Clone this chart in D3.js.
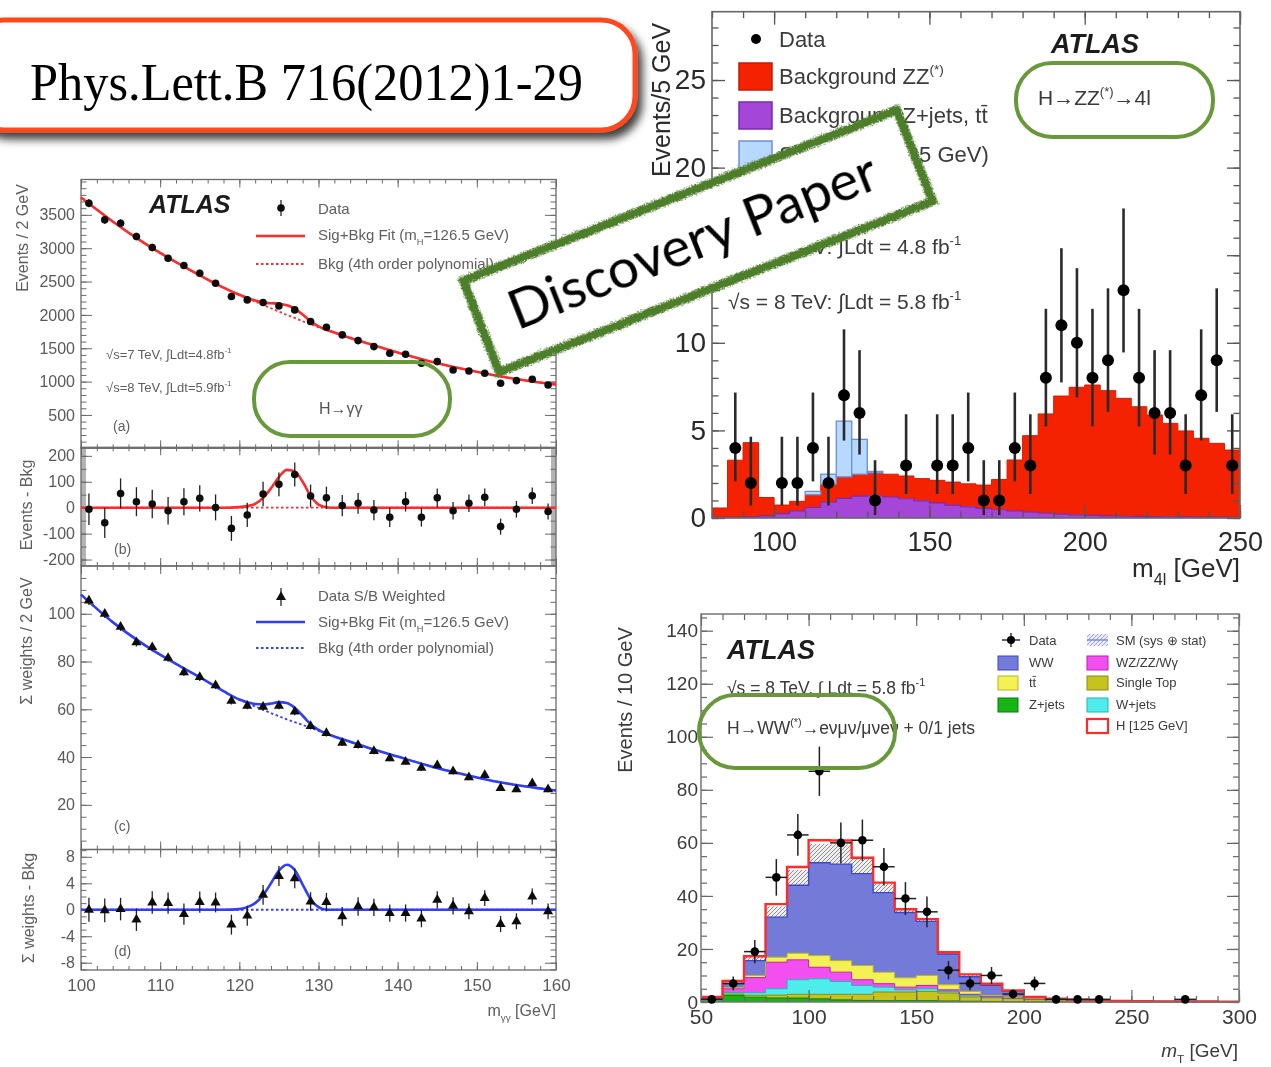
<!DOCTYPE html>
<html>
<head>
<meta charset="utf-8">
<script src="https://cdn.jsdelivr.net/npm/d3@7"></script>
<style>
  html, body { margin: 0; padding: 0; background: #fff; }
  svg { display: block; }
</style>
</head>
<body>
<svg id="page" width="1271" height="1067"></svg>
<script>
// ---------------- H→γγ : diphoton mass spectrum (panels a–d) ----------------
const gamMass   = [101,103,105,107,109,111,113,115,117,119,121,123,125,127,129,131,133,135,137,139,141,143,145,147,149,151,153,155,157,159];
const gamEvents = [3675,3425,3375,3175,3010,2850,2740,2625,2475,2275,2225,2185,2135,2075,1900,1815,1700,1615,1525,1425,1410,1275,1300,1175,1160,1125,975,1015,1035,950];
const gamErr    = [61,59,58,56,55,53,52,51,50,48,47,47,46,46,44,43,41,40,39,38,38,36,36,34,34,34,31,32,32,31];
const gamResid  = [-6,-58,55,23,14,-12,23,36,1,-80,-28,53,90,128,45,38,8,17,-9,-37,23,-37,38,-12,17,40,-73,-6,46,-15];
// S/B weighted version
const wEvents   = [105.5,100,94.5,88,86,81.5,75.5,73.5,70,63.5,61.5,61,61.5,59,53,50,46,45,42.5,39.5,38,35.5,36.5,34,31.5,32.5,27,26.5,29,26.5];
const wErr      = [1.8,1.8,1.7,1.7,1.7,1.6,1.6,1.6,1.5,1.5,1.5,1.5,1.5,1.5,1.4,1.4,1.4,1.4,1.3,1.3,1.3,1.3,1.3,1.3,1.2,1.2,1.2,1.2,1.2,1.2];
const wResid    = [0,-0.1,0.1,-1.5,1.1,1.0,-0.65,1.15,1.1,-2.25,-0.9,2.25,5.1,4.75,1.25,1.15,-1.0,0.5,0.35,-0.5,-0.5,-1.35,1.5,0.6,-0.25,1.75,-2.15,-1.75,2.0,-0.25];
// fit curves sampled on a common mass grid
const fitMass   = [100,104,108,112,116,118,120,121,122,123,124,125,126,127,128,129,130,131,132,134,136,140,144,148,152,156,160];
const gamBkgFit = [3760,3400,3075,2790,2530,2410,2300,2250,2200,2150,2100,2050,2000,1955,1905,1860,1815,1775,1735,1655,1580,1435,1305,1195,1100,1020,955];
const gamSigFit = [0,0,0,0,0,0,2,6,15,38,75,118,146,140,100,45,12,2,0,0,0,0,0,0,0,0,0];
const wBkgFit   = [108,96.5,87,79,71.5,67.6,64,62.6,61.2,59.8,58.4,57.1,55.8,54.6,53.5,52.2,51,49.8,48.6,46.4,44.2,40.2,36.3,33,30,27.8,26];
const wSigFit   = [0,0,0,0,0,0,0.1,0.4,1.0,2.2,4.0,5.9,6.8,6.0,3.8,1.6,0.4,0,0,0,0,0,0,0,0,0,0];
const gamXTicks = [100,110,120,130,140,150,160];

// ---------------- H→ZZ(*)→4l : four-lepton mass ----------------
const zzLow    = [80,85,90,95,100,105,110,115,120,125,130,135,140,145,150,155,160,165,170,175,180,185,190,195,200,205,210,215,220,225,230,235,240,245];
const zzZjets  = [0.03,0.04,0.06,0.12,0.25,0.4,0.6,0.9,1.12,1.25,1.27,1.2,1.1,0.98,0.86,0.74,0.64,0.55,0.47,0.4,0.33,0.27,0.22,0.18,0.15,0.12,0.1,0.09,0.08,0.07,0.06,0.05,0.05,0.04];
const zzZZ     = [0.54,3.26,4.24,1.05,0.49,0.55,0.73,1.03,1.23,1.25,1.31,1.3,1.3,1.27,1.29,1.31,1.31,1.33,1.73,2.91,4.37,5.67,6.74,7.28,7.44,7.15,6.73,6.26,5.8,5.33,4.91,4.5,4.21,3.84];
const zzSignal = [0,0,0,0,0,0,0.19,0.57,3.18,1.99,0.08,0,0,0,0,0,0,0,0,0,0,0,0,0,0,0,0,0,0,0,0,0,0,0];
const zzData   = [0,4,2,0,2,2,4,2,7,6,1,0,3,0,3,3,4,1,1,4,3,8,11,10,8,9,13,8,6,6,3,7,9,3];
const zzErrLo  = [0,1.91,1.29,0,1.29,1.29,1.91,1.29,2.58,2.38,0.83,0,1.63,0,1.63,1.63,1.91,0.83,0.83,1.91,1.63,2.77,3.26,3.11,2.77,2.94,3.55,2.77,2.38,2.38,1.63,2.58,2.94,1.63];
const zzErrHi  = [0,3.16,2.64,0,2.64,2.64,3.16,2.64,3.77,3.58,2.30,0,2.92,0,2.92,2.92,3.16,2.30,2.30,3.16,2.92,3.94,4.40,4.26,3.94,4.11,4.67,3.94,3.58,3.58,2.92,3.77,4.11,2.92];
const zzXTicks = [100,150,200,250];
const zzYTicks = [0,5,10,15,20,25];

// ---------------- H→WW(*)→eνμν : transverse mass ----------------
const wwLow     = [50,60,70,80,90,100,110,120,130,140,150,160,170,180,190,200,210,220,230,240,250,260,270,280,290];
const wwZjets   = [0.3,2.5,1.8,1.5,1.5,1.2,0.8,0.6,0.5,0.5,0.5,0.4,0.3,0.2,0.1,0.05,0.05,0,0,0,0,0,0,0,0];
const wwStop    = [0.3,0.5,0.7,1.1,1.4,1.7,2.1,2.3,3.25,3.25,3.5,3.0,1.6,1.4,1.15,0.85,0.35,0.2,0.1,0.1,0,0,0,0,0];
const wwWjets   = [0.2,0.6,1.0,2.4,5.5,5.85,4.85,3.35,1.85,0.85,1.0,0.6,0.6,0.2,0.15,0.1,0.05,0.05,0.02,0,0,0,0,0,0];
const wwDiboson = [0.2,1.4,5.7,10.0,7.5,4.35,3.5,2.15,1.3,1.0,1.25,0.6,0.4,0.2,0.1,0.1,0.05,0.05,0.03,0,0,0,0,0,0];
const wwTtbar   = [0.1,0.4,0.8,1.9,2.5,4.4,4.35,5.35,4.35,3.5,3.75,1.9,1.1,0.5,0.4,0.2,0.1,0.05,0.05,0,0,0,0,0,0];
const wwWW      = [0.1,1.5,5.6,15.1,25.6,35.0,36.4,34.65,30.0,24.65,20.4,11.6,5.5,3.75,2.2,0.6,0.65,0.55,0.4,0.3,0.3,0.25,0.2,0.2,0.15];
const wwHiggs   = [0.7,1.0,1.65,4.9,6.9,8.5,8.9,6.0,3.75,1.25,0.85,0.65,0.9,0.65,0.3,0,0,0,0,0,0,0,0,0,0];
const wwSmUnc   = [0.3,0.8,1.5,4.0,5.8,7.2,7.5,5.5,3.4,1.2,0.9,0.7,0.8,0.6,0.3,0.2,0.15,0.1,0.1,0.1,0.05,0.05,0.05,0.05,0.05];
const wwData    = [1,7,19,47,63,87,60,61,51,39,34,12,7,10,3,7,1,1,1,0,0,0,1,0,0];
const wwDataErr = [1,2.6,4.4,6.9,7.9,9.3,7.7,7.8,7.1,6.2,5.8,3.5,2.6,3.2,1.7,2.6,1,1,1,0,0,0,1,0,0];
const wwXTicks  = [50,100,150,200,250,300];
const wwYTicks  = [0,20,40,60,80,100,120,140];

// ---------------------------------------------------------------------------
const FF = '"Liberation Sans", Arial, Helvetica, sans-serif';
const svg = d3.select('#page');
const defs = svg.append('defs');

function blurFilter(id, sd) {
  defs.append('filter').attr('id', id).attr('filterUnits', 'userSpaceOnUse')
    .attr('x', 0).attr('y', 0).attr('width', 1271).attr('height', 1067)
    .append('feGaussianBlur').attr('stdDeviation', sd);
}
blurFilter('softL', 0.65);
blurFilter('softZ', 0.45);
blurFilter('softW', 0.6);

const shadow = defs.append('filter').attr('id', 'shadow')
  .attr('x', '-10%').attr('y', '-30%').attr('width', '125%').attr('height', '170%');
shadow.append('feDropShadow').attr('dx', 5).attr('dy', 7).attr('stdDeviation', 4)
  .attr('flood-color', '#000').attr('flood-opacity', 0.75);

const rough = defs.append('filter').attr('id', 'rough')
  .attr('x', '-10%').attr('y', '-25%').attr('width', '120%').attr('height', '150%');
rough.append('feTurbulence').attr('type', 'fractalNoise').attr('baseFrequency', 0.9)
  .attr('numOctaves', 2).attr('seed', 4).attr('result', 'noise');
rough.append('feDisplacementMap').attr('in', 'SourceGraphic').attr('in2', 'noise')
  .attr('scale', 6).attr('xChannelSelector', 'R').attr('yChannelSelector', 'G');

const hatch = defs.append('pattern').attr('id', 'hatch').attr('patternUnits', 'userSpaceOnUse')
  .attr('width', 4).attr('height', 4);
hatch.append('rect').attr('width', 4).attr('height', 4).attr('fill', 'rgba(228,228,228,0.6)');
hatch.append('path').attr('d', 'M-1,1 l2,-2 M0,4 l4,-4 M3,5 l2,-2')
  .attr('stroke', '#858585').attr('stroke-width', 0.9);

const hatchBlue = defs.append('pattern').attr('id', 'hatchBlue').attr('patternUnits', 'userSpaceOnUse')
  .attr('width', 4).attr('height', 4);
hatchBlue.append('rect').attr('width', 4).attr('height', 4).attr('fill', '#e8eaf8');
hatchBlue.append('path').attr('d', 'M-1,1 l2,-2 M0,4 l4,-4 M3,5 l2,-2')
  .attr('stroke', '#8f97e0').attr('stroke-width', 0.8);

// text with sub/superscript pieces: strings are plain runs, {t, sub|sup} are scripts
function rich(g, x, y, parts, fs, attrs = {}) {
  const t = g.append('text').attr('x', x).attr('y', y)
    .attr('font-size', fs).attr('font-family', FF);
  Object.entries(attrs).forEach(([k, v]) => t.attr(k, v));
  let shift = 0;
  parts.forEach(p => {
    if (typeof p === 'string') {
      const s = t.append('tspan').text(p);
      if (shift) { s.attr('dy', -shift); shift = 0; }
    } else {
      const off = p.sub ? fs * 0.32 : -fs * 0.45;
      const s = t.append('tspan').text(p.t).attr('font-size', fs * 0.62).attr('dy', off - shift);
      shift = off;
    }
  });
  return t;
}

// ROOT-style frame: inward ticks on all four sides, labels on left / bottom
function frameAxes(g, xs, ys, o) {
  const [xl, xr] = xs.range();
  const [yb, yt] = ys.range();
  const put = (axis, tr) => {
    const a = g.append('g').attr('transform', tr).call(axis);
    a.select('.domain').remove();
    a.selectAll('line').attr('stroke', o.tick).attr('stroke-width', o.tickW);
    a.selectAll('text').attr('fill', o.label).attr('font-size', o.fs).attr('font-family', FF);
    return a;
  };
  const fmt = d3.format('d');
  put(d3.axisBottom(xs).tickValues(o.xMinor).tickSize(-o.xMin).tickFormat(''), `translate(0,${yb})`);
  put(d3.axisTop(xs).tickValues(o.xMinor).tickSize(-o.xMin).tickFormat(''), `translate(0,${yt})`);
  put(d3.axisBottom(xs).tickValues(o.xMajor).tickSize(-o.xMaj)
        .tickFormat(o.xLabels ? fmt : '').tickPadding(o.xPad || 6), `translate(0,${yb})`)
    .selectAll('text').attr('font-size', o.xfs || o.fs);
  put(d3.axisTop(xs).tickValues(o.xMajor).tickSize(-o.xMaj).tickFormat(''), `translate(0,${yt})`);
  put(d3.axisLeft(ys).tickValues(o.yMinor).tickSize(-o.yMin).tickFormat(''), `translate(${xl},0)`);
  put(d3.axisRight(ys).tickValues(o.yMinor).tickSize(-o.yMin).tickFormat(''), `translate(${xr},0)`);
  put(d3.axisLeft(ys).tickValues(o.yMajor).tickSize(-o.yMaj)
        .tickFormat(o.yLabels === false ? '' : (d => (d < 0 ? '-' : '') + fmt(Math.abs(d))))
        .tickPadding(o.yPad || 6), `translate(${xl},0)`);
  put(d3.axisRight(ys).tickValues(o.yMajor).tickSize(-o.yMaj).tickFormat(''), `translate(${xr},0)`);
  g.append('rect').attr('x', xl).attr('y', yt).attr('width', xr - xl).attr('height', yb - yt)
    .attr('fill', 'none').attr('stroke', o.frame).attr('stroke-width', o.frameW);
}

function yTitle(g, x, y, parts, fs, color) {
  const t = rich(g, 0, 0, parts, fs, { fill: color, 'text-anchor': 'middle' });
  t.attr('transform', `translate(${x},${y}) rotate(-90)`);
  return t;
}

// ======================= H→γγ =======================
const gL = svg.append('g').attr('filter', 'url(#softL)');
const gx = d3.scaleLinear().domain([100, 160]).range([81, 556]);
const yA = d3.scaleLinear().domain([0, 4030]).range([448.3, 179.5]);
const yB = d3.scaleLinear().domain([-225, 233]).range([566, 447.3]);
const yC = d3.scaleLinear().domain([1.3, 120]).range([849.5, 566]);
const yD = d3.scaleLinear().domain([-9.1, 9.1]).range([970, 849.5]);
const RED = '#ff2b2b', BLUE = '#2f3cff', LGRAY = '#5e5e5e';
const xMinorG = d3.range(100, 161, 2);

const leftStyle = {
  xMajor: gamXTicks, xMinor: xMinorG, xMaj: 8, xMin: 4,
  tick: '#6a6a6a', tickW: 1, label: '#5a5a5a', fs: 16, frame: '#6a6a6a', frameW: 1.3, yMaj: 11, yMin: 5.5
};
// panel b gray edges
gL.append('rect').attr('x', 81).attr('y', 447.3).attr('width', 5).attr('height', 118.7).attr('fill', '#b4b4b4');
gL.append('rect').attr('x', 551).attr('y', 447.3).attr('width', 5).attr('height', 118.7).attr('fill', '#b4b4b4');

frameAxes(gL, gx, yA, { ...leftStyle, yMajor: [500,1000,1500,2000,2500,3000,3500], yMinor: d3.range(100, 4001, 100) });
frameAxes(gL, gx, yB, { ...leftStyle, yMajor: [-200,-100,0,100,200], yMinor: d3.range(-200, 201, 50) });
frameAxes(gL, gx, yC, { ...leftStyle, yMajor: [20,40,60,80,100], yMinor: d3.range(5, 120, 5) });
frameAxes(gL, gx, yD, { ...leftStyle, yMajor: [-8,-4,0,4,8], yMinor: d3.range(-9, 10, 1),
  xLabels: true, xPad: 9, xfs: 17 });

const fitPath = (ys, vals) => d3.line().curve(d3.curveMonotoneX)
  .x((d, i) => gx(fitMass[i])).y((d, i) => ys(vals[i]))(vals);

// (a) background-only and signal+background fits
gL.append('path').attr('d', fitPath(yA, gamBkgFit)).attr('fill', 'none')
  .attr('stroke', RED).attr('stroke-width', 1.8).attr('stroke-dasharray', '2.5,2.5');
gL.append('path').attr('d', fitPath(yA, gamBkgFit.map((b, i) => b + gamSigFit[i]))).attr('fill', 'none')
  .attr('stroke', RED).attr('stroke-width', 2.6);
// (b) residual
gL.append('line').attr('x1', gx(100)).attr('x2', gx(160)).attr('y1', yB(0)).attr('y2', yB(0))
  .attr('stroke', RED).attr('stroke-width', 1.8).attr('stroke-dasharray', '2.5,2.5');
gL.append('path').attr('d', fitPath(yB, gamSigFit)).attr('fill', 'none')
  .attr('stroke', RED).attr('stroke-width', 2.6);
// (c) weighted fits
gL.append('path').attr('d', fitPath(yC, wBkgFit)).attr('fill', 'none')
  .attr('stroke', BLUE).attr('stroke-width', 1.8).attr('stroke-dasharray', '2.5,2.5');
gL.append('path').attr('d', fitPath(yC, wBkgFit.map((b, i) => b + wSigFit[i]))).attr('fill', 'none')
  .attr('stroke', BLUE).attr('stroke-width', 2.6);
// (d) weighted residual
gL.append('line').attr('x1', gx(100)).attr('x2', gx(160)).attr('y1', yD(0)).attr('y2', yD(0))
  .attr('stroke', BLUE).attr('stroke-width', 1.8).attr('stroke-dasharray', '2.5,2.5');
gL.append('path').attr('d', fitPath(yD, wSigFit)).attr('fill', 'none')
  .attr('stroke', BLUE).attr('stroke-width', 2.6);

function points(g, xs, ys, xv, vals, errs, shape) {
  g.append('g').selectAll('line').data(vals).join('line')
    .attr('x1', (d, i) => xs(xv[i])).attr('x2', (d, i) => xs(xv[i]))
    .attr('y1', (d, i) => ys(d - errs[i])).attr('y2', (d, i) => ys(d + errs[i]))
    .attr('stroke', '#222').attr('stroke-width', 1.3);
  if (shape === 'tri') {
    const sym = d3.symbol(d3.symbolTriangle, 44);
    g.append('g').selectAll('path').data(vals).join('path')
      .attr('d', sym).attr('transform', (d, i) => `translate(${xs(xv[i])},${ys(d)})`).attr('fill', '#111');
  } else {
    g.append('g').selectAll('circle').data(vals).join('circle')
      .attr('cx', (d, i) => xs(xv[i])).attr('cy', d => ys(d)).attr('r', 3.8).attr('fill', '#111');
  }
}
points(gL, gx, yA, gamMass, gamEvents, gamErr, 'dot');
points(gL, gx, yB, gamMass, gamResid, gamErr, 'dot');
points(gL, gx, yC, gamMass, wEvents, wErr, 'tri');
points(gL, gx, yD, gamMass, wResid, wErr, 'tri');

// labels and legends
gL.append('text').attr('x', 149).attr('y', 213).text('ATLAS')
  .attr('font-family', FF).attr('font-size', 25).attr('font-weight', 'bold').attr('font-style', 'italic').attr('fill', '#1a1a1a');
gL.append('line').attr('x1', 281).attr('x2', 281).attr('y1', 200).attr('y2', 216).attr('stroke', '#222').attr('stroke-width', 1.3);
gL.append('circle').attr('cx', 281).attr('cy', 208).attr('r', 3.8).attr('fill', '#111');
rich(gL, 318, 214, ['Data'], 15, { fill: LGRAY });
gL.append('line').attr('x1', 256).attr('x2', 305).attr('y1', 236).attr('y2', 236).attr('stroke', RED).attr('stroke-width', 2.4);
rich(gL, 318, 240, ['Sig+Bkg Fit  (m', { t: 'H', sub: true }, '=126.5 GeV)'], 15, { fill: LGRAY });
gL.append('line').attr('x1', 256).attr('x2', 305).attr('y1', 264).attr('y2', 264).attr('stroke', RED)
  .attr('stroke-width', 1.8).attr('stroke-dasharray', '2.5,2.5');
rich(gL, 318, 269, ['Bkg (4th order polynomial)'], 15, { fill: LGRAY });
rich(gL, 106, 359, ['√s=7 TeV, ∫Ldt=4.8fb', { t: '-1', sup: true }], 13, { fill: LGRAY });
rich(gL, 106, 392, ['√s=8 TeV, ∫Ldt=5.9fb', { t: '-1', sup: true }], 13, { fill: LGRAY });
rich(gL, 113, 431, ['(a)'], 14, { fill: LGRAY });
rich(gL, 114, 554, ['(b)'], 14, { fill: LGRAY });
rich(gL, 114, 831, ['(c)'], 14, { fill: LGRAY });
rich(gL, 114, 956, ['(d)'], 14, { fill: LGRAY });

gL.append('line').attr('x1', 281).attr('x2', 281).attr('y1', 588).attr('y2', 606).attr('stroke', '#222').attr('stroke-width', 1.3);
gL.append('path').attr('d', d3.symbol(d3.symbolTriangle, 44)).attr('transform', 'translate(281,597)').attr('fill', '#111');
rich(gL, 318, 601, ['Data S/B Weighted'], 15, { fill: LGRAY });
gL.append('line').attr('x1', 256).attr('x2', 305).attr('y1', 622).attr('y2', 622).attr('stroke', BLUE).attr('stroke-width', 2.4);
rich(gL, 318, 627, ['Sig+Bkg Fit  (m', { t: 'H', sub: true }, '=126.5 GeV)'], 15, { fill: LGRAY });
gL.append('line').attr('x1', 256).attr('x2', 305).attr('y1', 648).attr('y2', 648).attr('stroke', BLUE)
  .attr('stroke-width', 1.8).attr('stroke-dasharray', '2.5,2.5');
rich(gL, 318, 653, ['Bkg (4th order polynomial)'], 15, { fill: LGRAY });

yTitle(gL, 28, 238, ['Events / 2 GeV'], 16, LGRAY);
yTitle(gL, 32, 505, ['Events - Bkg'], 16, LGRAY);
yTitle(gL, 32, 641, ['Σ weights / 2 GeV'], 16, LGRAY);
yTitle(gL, 34, 908, ['Σ weights - Bkg'], 16, LGRAY);
rich(gL, 556, 1016, ['m', { t: 'γγ', sub: true }, ' [GeV]'], 16, { fill: LGRAY, 'text-anchor': 'end' });

// ======================= H→ZZ(*)→4l =======================
const gZ = svg.append('g').attr('filter', 'url(#softZ)');
const zx = d3.scaleLinear().domain([80, 250]).range([712, 1240]);
const zy = d3.scaleLinear().domain([0, 28.9]).range([518, 11.7]);
const zzRows = zzLow.map((b, i) => ({ zjets: zzZjets[i], zz: zzZZ[i], signal: zzSignal[i] }));
const zzStack = d3.stack().keys(['zjets', 'zz', 'signal'])(zzRows);

function stepPts(low, width, layer) {
  const pts = low.map((b, i) => ({ x: b, y0: layer[i][0], y1: layer[i][1] }));
  const last = pts[pts.length - 1];
  pts.push({ x: last.x + width, y0: last.y0, y1: last.y1 });
  return pts;
}
function stepArea(xs, ys) {
  return d3.area().curve(d3.curveStepAfter).x(d => xs(d.x)).y0(d => ys(d.y0)).y1(d => ys(d.y1));
}
function stepTop(xs, ys) {
  return d3.line().curve(d3.curveStepAfter).x(d => xs(d.x)).y(d => ys(d.y1));
}

const zArea = stepArea(zx, zy), zTop = stepTop(zx, zy);
gZ.append('path').attr('d', zArea(stepPts(zzLow, 5, zzStack[1]))).attr('fill', '#f42300');
gZ.append('path').attr('d', zTop(stepPts(zzLow, 5, zzStack[1]))).attr('fill', 'none').attr('stroke', '#d81c00').attr('stroke-width', 1);
gZ.append('path').attr('d', zArea(stepPts(zzLow, 5, zzStack[0]))).attr('fill', '#a447d8');
gZ.append('path').attr('d', zTop(stepPts(zzLow, 5, zzStack[0]))).attr('fill', 'none').attr('stroke', '#7b2aae').attr('stroke-width', 1.2);
// signal on top of the backgrounds
const sigBins = zzLow.map((b, i) => ({ b, y0: zzStack[2][i][0], y1: zzStack[2][i][1], s: zzSignal[i] })).filter(d => d.s > 0);
gZ.append('g').selectAll('rect').data(sigBins).join('rect')
  .attr('x', d => zx(d.b)).attr('width', d => zx(d.b + 5) - zx(d.b))
  .attr('y', d => zy(d.y1)).attr('height', d => zy(d.y0) - zy(d.y1))
  .attr('fill', '#b7d9ff').attr('stroke', '#6f8fd2').attr('stroke-width', 1.3);

frameAxes(gZ, zx, zy, {
  xMajor: zzXTicks, xMinor: d3.range(80, 251, 10), xMaj: 13, xMin: 6.5,
  yMajor: zzYTicks, yMinor: d3.range(0, 29, 1), yMaj: 13, yMin: 6.5,
  tick: '#555', tickW: 1.3, label: '#2a2a2a', fs: 28, xfs: 27, frame: '#666', frameW: 1.6,
  xLabels: true, xPad: 14, yPad: 6
});

// data with asymmetric Poisson errors (empty bins not drawn)
const zzPts = zzLow.map((b, i) => ({ x: b + 2.5, n: zzData[i], lo: zzErrLo[i], hi: zzErrHi[i] })).filter(d => d.n > 0);
gZ.append('g').selectAll('line').data(zzPts).join('line')
  .attr('x1', d => zx(d.x)).attr('x2', d => zx(d.x))
  .attr('y1', d => zy(d.n - d.lo)).attr('y2', d => zy(d.n + d.hi))
  .attr('stroke', '#2b2b2b').attr('stroke-width', 2.6);
gZ.append('g').selectAll('circle').data(zzPts).join('circle')
  .attr('cx', d => zx(d.x)).attr('cy', d => zy(d.n)).attr('r', 6).attr('fill', '#000');

// legend
const ZT = '#3a3a3a';
gZ.append('circle').attr('cx', 756).attr('cy', 39).attr('r', 5).attr('fill', '#000');
rich(gZ, 779, 47, ['Data'], 22, { fill: ZT });
const zLeg = [
  { y: 63, fill: '#f42300', stroke: '#c41800', parts: ['Background ZZ', { t: '(*)', sup: true }] },
  { y: 102, fill: '#a447d8', stroke: '#7b2aae', parts: ['Background Z+jets, tt\u0304'] },
  { y: 141, fill: '#b7d9ff', stroke: '#6f8fd2', parts: ['Signal (m', { t: 'H', sub: true }, '=125 GeV)'] },
  { y: 180, fill: 'url(#hatch)', stroke: '#cfcfcf', parts: ['Syst.Unc.'] }
];
zLeg.forEach(l => {
  gZ.append('rect').attr('x', 739).attr('y', l.y).attr('width', 33).attr('height', 27)
    .attr('fill', l.fill).attr('stroke', l.stroke).attr('stroke-width', 1.5);
  rich(gZ, 779, l.y + 21, l.parts, 22, { fill: ZT });
});
gZ.append('text').attr('x', 1051).attr('y', 53).text('ATLAS').attr('font-family', FF)
  .attr('font-size', 27).attr('font-weight', 'bold').attr('font-style', 'italic').attr('fill', '#1a1a1a');
rich(gZ, 1038, 105, ['H→ZZ', { t: '(*)', sup: true }, '→4l'], 21, { fill: ZT });
rich(gZ, 728, 254, ['√s = 7 TeV: ∫Ldt = 4.8 fb', { t: '-1', sup: true }], 21, { fill: ZT });
rich(gZ, 728, 309, ['√s = 8 TeV: ∫Ldt = 5.8 fb', { t: '-1', sup: true }], 21, { fill: ZT });
yTitle(gZ, 670, 100, ['Events/5 GeV'], 25, '#2a2a2a');
rich(gZ, 1240, 577, ['m', { t: '4l', sub: true }, ' [GeV]'], 26, { fill: '#2a2a2a', 'text-anchor': 'end' });

// ======================= H→WW(*) =======================
const gW = svg.append('g').attr('filter', 'url(#softW)');
const wx = d3.scaleLinear().domain([50, 300]).range([701, 1239]);
const wy = d3.scaleLinear().domain([0, 146.3]).range([1002, 614]);
const wwKeys = ['zjets', 'stop', 'wjets', 'diboson', 'ttbar', 'ww', 'higgs'];
const wwRows = wwLow.map((b, i) => ({
  zjets: wwZjets[i], stop: wwStop[i], wjets: wwWjets[i], diboson: wwDiboson[i],
  ttbar: wwTtbar[i], ww: wwWW[i], higgs: wwHiggs[i]
}));
const wwStack = d3.stack().keys(wwKeys)(wwRows);
const wwFill = { zjets: '#16b516', stop: '#c5c31f', wjets: '#4fecec', diboson: '#f34ff0', ttbar: '#f3f152', ww: '#737ad8', higgs: '#ffffff' };
const wwLine = { zjets: '#0b800b', stop: '#8b8a12', wjets: '#22b3b3', diboson: '#b621b4', ttbar: '#b8b523', ww: '#3e47cc', higgs: '#ff2b2b' };
const wArea = stepArea(wx, wy), wTop = stepTop(wx, wy);

// SM uncertainty band first; the opaque background stack then covers its lower half
const smTop = wwStack[5].map(d => d[1]);
const bandPts = stepPts(wwLow, 10, smTop.map((s, i) => [Math.max(0, s - wwSmUnc[i]), s + wwSmUnc[i]]));
gW.append('path').attr('d', wArea(bandPts)).attr('fill', 'url(#hatch)');
wwStack.slice(0, 6).forEach(layer => {
  gW.append('path').attr('d', wArea(stepPts(wwLow, 10, layer))).attr('fill', wwFill[layer.key]);
});
wwStack.slice(0, 6).forEach(layer => {
  gW.append('path').attr('d', wTop(stepPts(wwLow, 10, layer))).attr('fill', 'none')
    .attr('stroke', wwLine[layer.key]).attr('stroke-width', layer.key === 'ww' ? 1.4 : 1);
});
// H [125 GeV] stacked on top: open histogram with red outline
gW.append('path').attr('d', wTop(stepPts(wwLow, 10, wwStack[6]))).attr('fill', 'none')
  .attr('stroke', '#ff2b2b').attr('stroke-width', 2.4);

frameAxes(gW, wx, wy, {
  xMajor: wwXTicks, xMinor: d3.range(50, 301, 10), xMaj: 12, xMin: 6,
  yMajor: wwYTicks, yMinor: d3.range(0, 146, 5), yMaj: 12, yMin: 6,
  tick: '#666', tickW: 1.2, label: '#3a3a3a', fs: 19, xfs: 21, frame: '#777', frameW: 1.5,
  xLabels: true, xPad: 7, yPad: 3
});

const wwPts = wwLow.map((b, i) => ({ b, n: wwData[i], e: wwDataErr[i] })).filter(d => d.n > 0);
gW.append('g').selectAll('line.v').data(wwPts).join('line')
  .attr('x1', d => wx(d.b + 5)).attr('x2', d => wx(d.b + 5))
  .attr('y1', d => wy(d.n - d.e)).attr('y2', d => wy(d.n + d.e))
  .attr('stroke', '#222').attr('stroke-width', 1.5);
gW.append('g').selectAll('line.h').data(wwPts).join('line')
  .attr('x1', d => wx(d.b)).attr('x2', d => wx(d.b + 10))
  .attr('y1', d => wy(d.n)).attr('y2', d => wy(d.n))
  .attr('stroke', '#222').attr('stroke-width', 1.5);
gW.append('g').selectAll('circle').data(wwPts).join('circle')
  .attr('cx', d => wx(d.b + 5)).attr('cy', d => wy(d.n)).attr('r', 4.3).attr('fill', '#000');

const WT = '#3a3a3a';
gW.append('text').attr('x', 727).attr('y', 659).text('ATLAS').attr('font-family', FF)
  .attr('font-size', 27).attr('font-weight', 'bold').attr('font-style', 'italic').attr('fill', '#1a1a1a');
rich(gW, 727, 694, ['√s = 8 TeV, ∫ Ldt = 5.8 fb', { t: '-1', sup: true }], 17.5, { fill: WT });
rich(gW, 727, 734, ['H→WW', { t: '(*)', sup: true }, '→eνμν/μνeν + 0/1 jets'], 17.5, { fill: WT });

// legend, two columns
gW.append('line').attr('x1', 1002).attr('x2', 1020).attr('y1', 640).attr('y2', 640).attr('stroke', '#222').attr('stroke-width', 1.4);
gW.append('line').attr('x1', 1011).attr('x2', 1011).attr('y1', 633).attr('y2', 647).attr('stroke', '#222').attr('stroke-width', 1.4);
gW.append('circle').attr('cx', 1011).attr('cy', 640).attr('r', 4).attr('fill', '#000');
rich(gW, 1029, 645, ['Data'], 13, { fill: WT });
const wLeg1 = [
  { y: 656, k: 'ww', parts: ['WW'] },
  { y: 676, k: 'ttbar', parts: ['tt\u0304'] },
  { y: 698, k: 'zjets', parts: ['Z+jets'] }
];
wLeg1.forEach(l => {
  gW.append('rect').attr('x', 998).attr('y', l.y).attr('width', 20).attr('height', 14)
    .attr('fill', wwFill[l.k]).attr('stroke', wwLine[l.k]).attr('stroke-width', 1);
  rich(gW, 1029, l.y + 11, l.parts, 13, { fill: WT });
});
gW.append('rect').attr('x', 1087).attr('y', 634).attr('width', 21).attr('height', 12).attr('fill', 'url(#hatchBlue)');
gW.append('line').attr('x1', 1087).attr('x2', 1108).attr('y1', 640).attr('y2', 640).attr('stroke', '#6b74dd').attr('stroke-width', 1.2);
rich(gW, 1116, 645, ['SM (sys ⊕ stat)'], 13, { fill: WT });
const wLeg2 = [
  { y: 656, k: 'diboson', parts: ['WZ/ZZ/Wγ'] },
  { y: 676, k: 'stop', parts: ['Single Top'] },
  { y: 698, k: 'wjets', parts: ['W+jets'] },
  { y: 719, k: 'higgs', parts: ['H [125 GeV]'] }
];
wLeg2.forEach(l => {
  gW.append('rect').attr('x', 1087).attr('y', l.y).attr('width', 21).attr('height', 14)
    .attr('fill', wwFill[l.k]).attr('stroke', wwLine[l.k]).attr('stroke-width', l.k === 'higgs' ? 2.2 : 1);
  rich(gW, 1116, l.y + 11, l.parts, 13, { fill: WT });
});
yTitle(gW, 632, 700, ['Events / 10 GeV'], 20, '#3a3a3a');
const mt = rich(gW, 1238, 1057, ['m', { t: 'T', sub: true }, ' [GeV]'], 19, { fill: '#3a3a3a', 'text-anchor': 'end' });
mt.select('tspan').attr('font-style', 'italic');

// ======================= annotations =======================
const GREEN = '#67993b';
const ann = svg.append('g');
[[254, 362, 196, 74], [1016, 63, 197, 74], [699, 695, 196, 73]].forEach(([x, y, w, h]) => {
  ann.append('rect').attr('x', x).attr('y', y).attr('width', w).attr('height', h)
    .attr('rx', 36).attr('ry', 36).attr('fill', 'none').attr('stroke', GREEN).attr('stroke-width', 4);
});
rich(ann, 319, 414, ['H→γγ'], 16, { fill: '#555', filter: 'url(#softL)' });

// reference box
const ref = svg.append('g');
ref.append('rect').attr('x', -30).attr('y', 20).attr('width', 665).attr('height', 110)
  .attr('rx', 34).attr('ry', 34).attr('fill', '#fff').attr('stroke', '#ff4a1c').attr('stroke-width', 5)
  .attr('filter', 'url(#shadow)');
ref.append('text').attr('x', 30).attr('y', 100).text('Phys.Lett.B 716(2012)1-29')
  .attr('font-family', '"Liberation Serif", "DejaVu Serif", serif').attr('font-size', 52)
  .attr('textLength', 553).attr('lengthAdjust', 'spacingAndGlyphs').attr('fill', '#000');

// stamp
const stamp = svg.append('g').attr('transform', 'translate(698,241) rotate(-21.5)');
stamp.append('rect').attr('x', -233).attr('y', -49).attr('width', 466).attr('height', 98).attr('fill', '#fff');
stamp.append('rect').attr('x', -233).attr('y', -49).attr('width', 466).attr('height', 98)
  .attr('fill', 'none').attr('stroke', '#4e7f2c').attr('stroke-width', 9).attr('filter', 'url(#rough)');
stamp.append('text').attr('x', -5).attr('y', 17).attr('text-anchor', 'middle').text('Discovery Paper')
  .attr('font-family', 'Lato, "Open Sans", sans-serif').attr('font-size', 55).attr('fill', '#000');
</script>
</body>
</html>
